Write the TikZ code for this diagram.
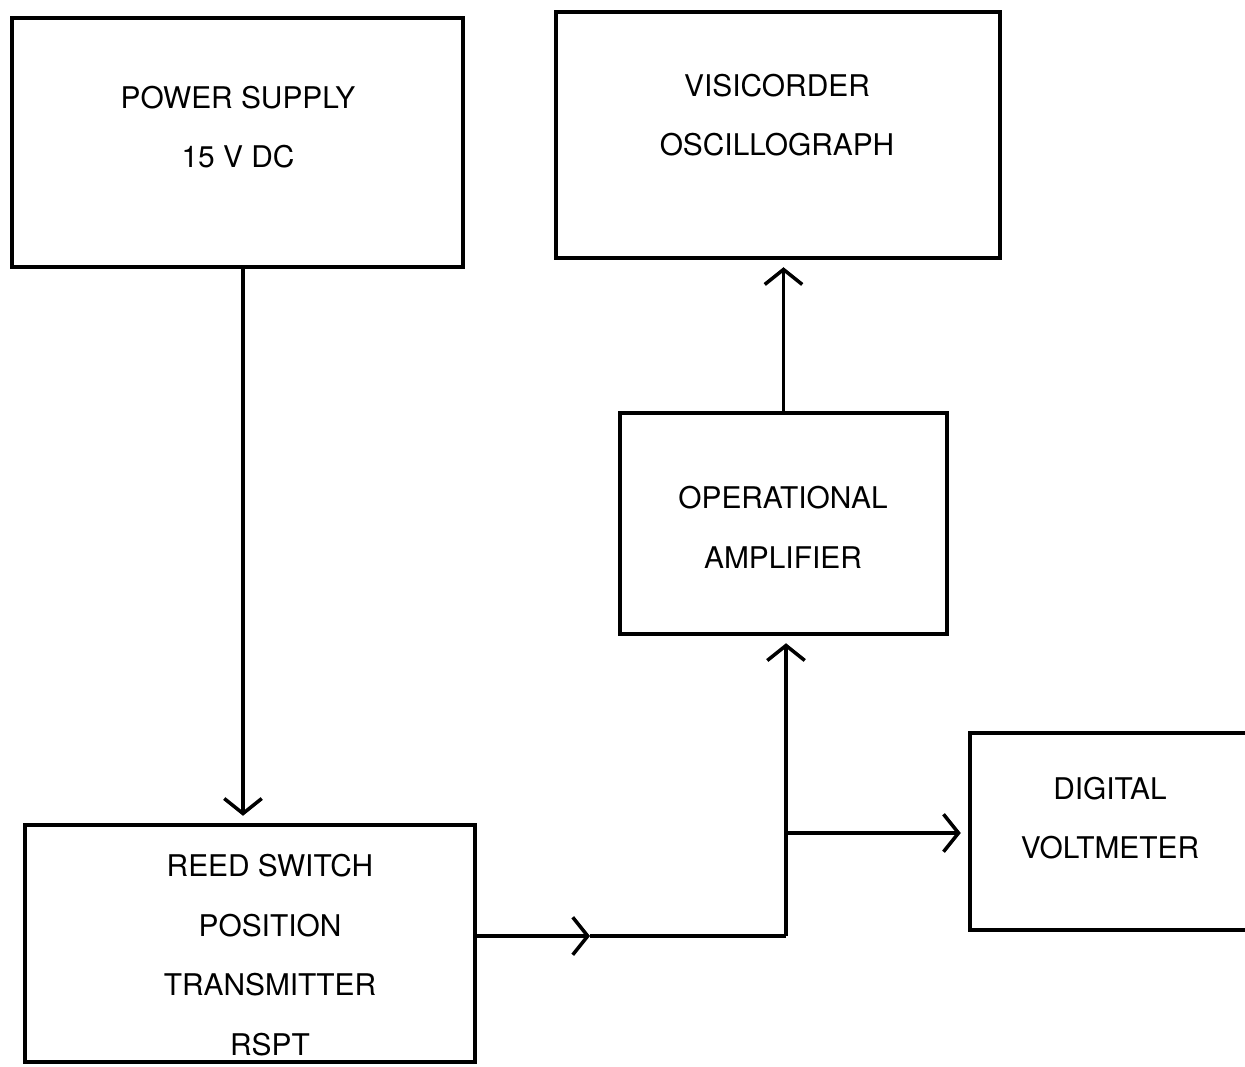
\documentclass[tikz,border=0pt]{standalone}
\usepackage{fontspec}
\setmainfont{TeX Gyre Heros}
\usetikzlibrary{arrows.meta, positioning}

\begin{document}
\begin{tikzpicture}[
    x=0.02cm, y=-0.02cm,
    >={Straight Barb[length=3mm, width=7.5mm]},
    blk/.style={draw, line width=2pt, inner sep=0pt},
    lbl/.style={align=center, font=\fontsize{17}{34}\selectfont},
    wire/.style={line width=2pt},
    flow/.style={wire, ->, shorten >=1.5mm}]

  \useasboundingbox (0,0) rectangle (1245,1066);
  \clip (0,0) rectangle (1245,1066);

  % blocks (right edge of the voltmeter runs off the sheet)
  \node[blk, minimum width=9.02cm, minimum height=4.98cm] (psu)    at (237.5,142.5) {};
  \node[blk, minimum width=8.88cm, minimum height=4.92cm] (vis)    at (778,135)     {};
  \node[blk, minimum width=6.54cm, minimum height=4.42cm] (opamp)  at (783.5,523.5) {};
  \node[blk, minimum width=6.40cm, minimum height=3.94cm] (dvm)    at (1130,831.5)  {};
  \node[blk, minimum width=9.00cm, minimum height=4.74cm] (rspt)   at (250,943.5)   {};

  % texts
  \node[lbl] (psu-txt)   at (238,127)  {POWER SUPPLY\\15 V DC};
  \node[lbl] (vis-txt)   at (777,115)  {VISICORDER\\OSCILLOGRAPH};
  \node[lbl] (opamp-txt) at (783,527)  {OPERATIONAL\\AMPLIFIER};
  \node[lbl] (dvm-txt)   at (1110,818) {DIGITAL\\VOLTMETER};
  \node[lbl] (rspt-txt)  at (270,955)  {REED SWITCH\\POSITION\\TRANSMITTER\\RSPT};

  % signal path
  \coordinate (psu-out) at (243,267);
  \coordinate (mid) at (590,936);
  \coordinate (j)   at (786,936);
  \coordinate (br)  at (786,833);

  \draw[flow] (psu-out) -- (psu-out |- rspt.north);
  \draw[wire, ->] (rspt.east |- mid) -- (mid);
  \draw[wire] (mid) -- (j);
  \draw[flow] (j) -- (j |- opamp.south);
  \draw[flow] (br) -- (br -| dvm.west);
  \draw[flow] (opamp.north) -- (opamp.north |- vis.south);
\end{tikzpicture}
\end{document}
